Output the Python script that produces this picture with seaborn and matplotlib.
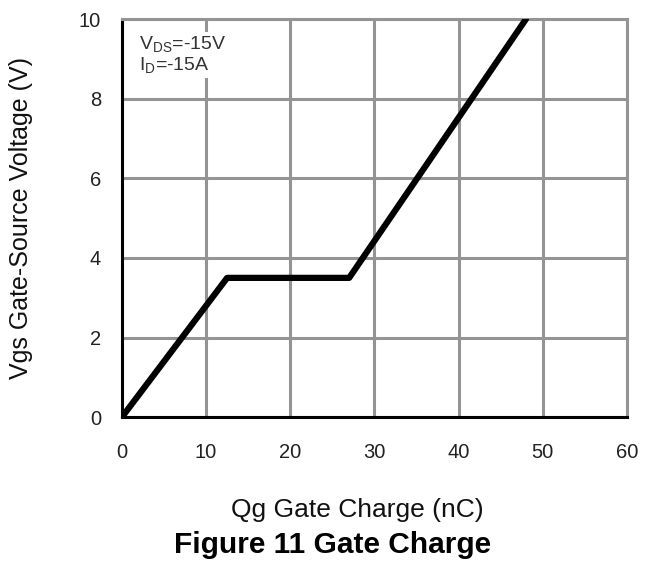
import matplotlib
matplotlib.use('Agg')
import matplotlib.pyplot as plt
import seaborn as sns
import pandas as pd

# gate charge curve corners (nC, V)
qg = [0, 12.5, 27, 48]
vgs = [0, 3.5, 3.5, 10]
x_ticks = [0, 10, 20, 30, 40, 50, 60]
y_ticks = [0, 2, 4, 6, 8, 10]

sns.set_style('white')
plt.rcParams['font.family'] = ['Liberation Sans', 'DejaVu Sans']
plt.rcParams['mathtext.fontset'] = 'custom'
plt.rcParams['mathtext.rm'] = 'Liberation Sans'

df = pd.DataFrame({'Qg': qg, 'Vgs': vgs})

fig = plt.figure(figsize=(6.45, 5.63), dpi=100)
ax = fig.add_axes([0.189, 0.259, 0.783, 0.707])

sns.lineplot(data=df, x='Qg', y='Vgs', ax=ax, color='black', linewidth=4.5,
             sort=False, solid_capstyle='round', zorder=3)

ax.set_xlim(0, 60)
ax.set_ylim(0, 10)
ax.set_xticks(x_ticks)
ax.set_yticks(y_ticks)
ax.grid(True, color='#949494', linewidth=2.2)
ax.set_axisbelow(True)
ax.tick_params(axis='both', length=0, labelsize=14.5, labelcolor='#222222')
ax.tick_params(axis='x', pad=18.5)
ax.tick_params(axis='y', pad=15)

for side in ['top', 'right']:
    ax.spines[side].set_color('#949494')
    ax.spines[side].set_linewidth(2.2)
for side in ['left', 'bottom']:
    ax.spines[side].set_color('black')
    ax.spines[side].set_linewidth(2.2)

ax.set_xlabel('Qg Gate Charge (nC)', fontsize=19, va='center', color='#111111')
ax.xaxis.set_label_coords(0.467, -0.234)
ax.set_ylabel('Vgs Gate-Source Voltage (V)', fontsize=18, va='center',
              color='#111111')
ax.yaxis.set_label_coords(-0.2, 0.5)

ax.text(2.0, 9.6, 'V$_{\\mathregular{DS}}$=-15V\nI$_{\\mathregular{D}}$=-15A',
        fontsize=14, va='top', ha='left', color='#333333', linespacing=1.0,
        bbox=dict(facecolor='white', edgecolor='none', pad=2))

fig.text(0.515, 0.032, 'Figure 11 Gate Charge', ha='center', va='center',
         fontsize=21.5, fontweight='bold', color='black')

fig.savefig('out.png', dpi=100)
